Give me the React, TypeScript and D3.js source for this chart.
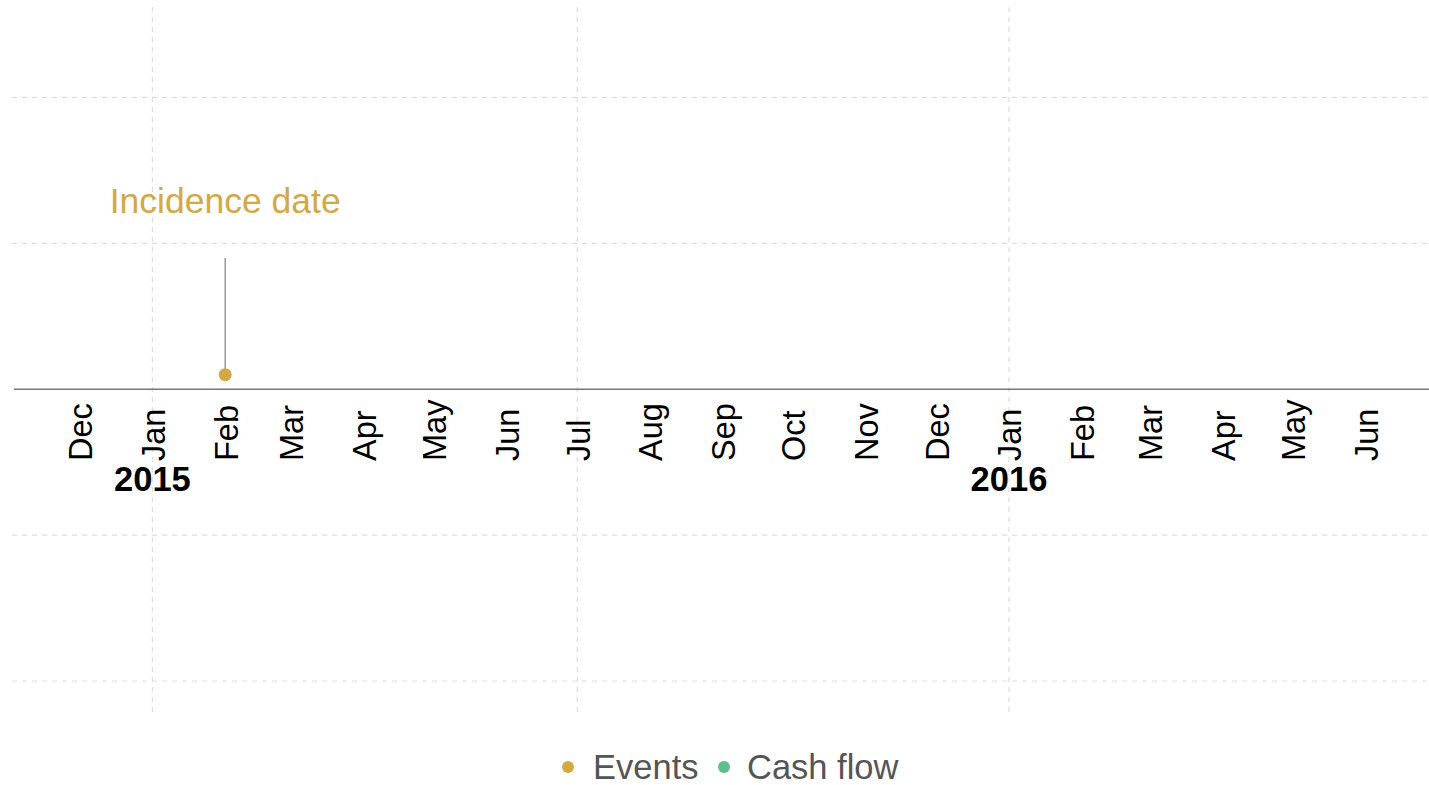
import React from "react";
import * as d3 from "d3";

// timeline extent and marks
const domainStart = "2014-11-03";
const domainEnd = "2016-06-28";
const eventDates = ["2015-02-01"];
const eventLabels = ["Incidence date"];
const cashFlowDates: string[] = [];
const gridValues = [-2, -1, 1, 2];
const legendNames = ["Events", "Cash flow"];
const legendColors = ["#d4a843", "#5dbf8b"];

const W = 1429;
const H = 785;
const font = "'Liberation Sans', Arial, Helvetica, sans-serif";

const App = () => {
  const parse = d3.timeParse("%Y-%m-%d");
  const x = d3
    .scaleTime()
    .domain([parse(domainStart)!, parse(domainEnd)!])
    .range([14, W]);
  const y = d3.scaleLinear().domain([-2.24, 2.62]).range([716, 7]);

  const months = d3.timeMonth.range(x.domain()[0], x.domain()[1]);
  const years = months.filter((d) => d.getMonth() === 0);
  const halfYears = d3.timeMonth.every(6)!.range(x.domain()[0], x.domain()[1]);
  const fmt = d3.timeFormat("%b");

  const events = eventDates.map((d, i) => ({ date: parse(d)!, label: eventLabels[i] }));

  return (
    <svg
      width={W}
      height={H}
      style={{ position: "absolute", left: 0, top: 0, fontFamily: font }}
    >
      <rect width={W} height={H} fill="#fff" />
      {/* grid */}
      {gridValues.map((v) => (
        <line
          key={v}
          x1={12}
          x2={W}
          y1={y(v)}
          y2={y(v)}
          stroke="#dedede"
          strokeWidth={1.2}
          strokeDasharray="5,5"
        />
      ))}
      {halfYears.map((d) => (
        <line
          key={+d}
          x1={x(d)}
          x2={x(d)}
          y1={y(2.62)}
          y2={y(-2.24)}
          stroke="#dedede"
          strokeWidth={1.2}
          strokeDasharray="5,5"
        />
      ))}
      {/* baseline axis */}
      <line x1={14} x2={W} y1={y(0)} y2={y(0)} stroke="#777" strokeWidth={1.5} />
      {months.map((d) => (
        <text
          key={+d}
          transform={`translate(${x(d)},${461}) rotate(-90)`}
          dy="0.38em"
          fontSize={32.5}
          fill="#000"
        >
          {fmt(d)}
        </text>
      ))}
      {years.map((d) => (
        <text
          key={+d}
          x={x(d)}
          y={491}
          textAnchor="middle"
          fontSize={34.5}
          fontWeight="bold"
          fill="#000"
        >
          {d.getFullYear()}
        </text>
      ))}
      {/* events */}
      {events.map((e) => (
        <g key={e.label}>
          <line
            x1={x(e.date)}
            x2={x(e.date)}
            y1={y(0.9)}
            y2={y(0.1)}
            stroke="#999"
            strokeWidth={1.5}
          />
          <circle cx={x(e.date)} cy={y(0.1)} r={6.5} fill={legendColors[0]} />
          <text
            x={x(e.date)}
            y={y(1.21)}
            textAnchor="middle"
            fontSize={35.5}
            fill={legendColors[0]}
          >
            {e.label}
          </text>
        </g>
      ))}
      {cashFlowDates.map((d) => (
        <circle key={d} cx={x(parse(d)!)} cy={y(-0.1)} r={6.5} fill={legendColors[1]} />
      ))}
      {/* legend */}
      <g>
        <circle cx={568} cy={767} r={6} fill={legendColors[0]} />
        <text x={593} y={779} fontSize={34.5} fill="#555">
          {legendNames[0]}
        </text>
        <circle cx={724} cy={767} r={6} fill={legendColors[1]} />
        <text x={747} y={779} fontSize={34.5} fill="#555">
          {legendNames[1]}
        </text>
      </g>
    </svg>
  );
};

export default App;
